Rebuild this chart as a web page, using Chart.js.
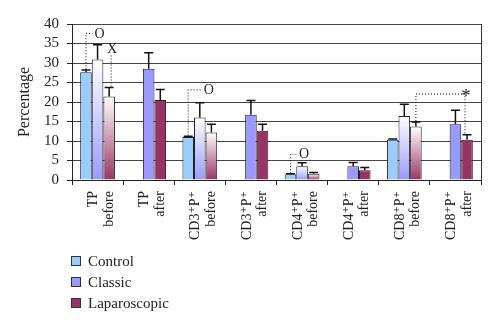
<!DOCTYPE html>
<html>
<head>
<meta charset="utf-8">
<script src="https://cdn.jsdelivr.net/npm/chart.js@4"></script>
<style>
html, body { margin: 0; padding: 0; background: #fff; }
#wrap { position: relative; width: 500px; height: 331px; }
#legend { position: absolute; left: 71px; top: 251px; font: 15px "Liberation Serif", serif; color: #222; }
#legend div { height: 21px; line-height: 21px; white-space: nowrap; }
#legend span { display: inline-block; width: 8px; height: 8px; border: 1px solid #333; margin-right: 7px; }
</style>
</head>
<body>
<div id="wrap">
  <canvas id="chart" width="500" height="331"></canvas>
  <div id="legend"></div>
</div>
<script>
// DATA
var categories = [
  ["TP", "before"], ["TP", "after"],
  ["CD3\u207AP\u207A", "before"], ["CD3\u207AP\u207A", "after"],
  ["CD4\u207AP\u207A", "before"], ["CD4\u207AP\u207A", "after"],
  ["CD8\u207AP\u207A", "before"], ["CD8\u207AP\u207A", "after"]
];
var seriesNames = ["Control", "Classic", "Laparoscopic"];
var control      = [27.6, null, 11.0, null, 1.5, null, 10.3, null];
var controlErr   = [0.6, null, 0.2, null, 0.1, null, 0.2, null];
var classic      = [30.9, 28.5, 16.0, 16.7, 3.5, 3.5, 16.4, 14.3];
var classicErr   = [3.8, 4.1, 3.8, 3.7, 0.9, 1.0, 3.0, 3.6];
var laparoscopic = [21.4, 20.5, 12.2, 12.6, 1.6, 2.5, 13.7, 10.3];
var laparoErr    = [2.3, 2.7, 2.1, 1.7, 0.3, 0.7, 1.2, 1.3];
var yTicks = [0, 5, 10, 15, 20, 25, 30, 35, 40];

// significance marks: [category, series, value, pixel nudge]
var notes = [
  { text: "O", path: [[0, 0, 28.4], [0, 0, 37.6], [0, 1, 37.6, -4]], at: [0, 1, 37.3, -3], align: "left" },
  { text: "X", path: [[0, 2, 24.0, 2], [0, 2, 32.3, 2]], at: [0, 2, 33.4, 3], align: "center" },
  { text: "O", path: [[2, 0, 11.4], [2, 0, 23.1], [2, 1, 23.1, 1]], at: [2, 1, 23.0, 4], align: "left" },
  { text: "O", path: [[4, 0, 1.7], [4, 0, 6.6], [4, 1, 6.6, -4]], at: [4, 1, 6.6, -3], align: "left" },
  { text: "*", path: [[6, 2, 15.1], [6, 2, 22.0], [7, 2, 22.0, -2], [7, 2, 11.8, -2]], at: [7, 2, 21.4, -1], align: "center" }
];

//Colors
var $sky = "#99ccff";
var $lilac = "#9999ff";
var $plum = "#993366";
var $ink = "#222";
var serif = "'Liberation Serif', 'DejaVu Serif', serif";

// "before" groups get a white-to-colour fade
var fadeGroups = [0, 2, 4, 6];

function fill(color) {
  return function (c) {
    if (c.type !== "data" || fadeGroups.indexOf(c.dataIndex) < 0 || c.raw == null) return color;
    var y = c.chart.scales.y;
    var top = y.getPixelForValue(c.raw), bottom = y.getPixelForValue(0);
    if (!isFinite(top) || !isFinite(bottom) || top === bottom) return color;
    var g = c.chart.ctx.createLinearGradient(0, top, 0, bottom);
    g.addColorStop(0, "#ffffff");
    g.addColorStop(1, color);
    return g;
  };
}

// Error bars (upper only, with cap)
var errorBars = {
  id: "errorBars",
  afterDatasetsDraw: function (chart) {
    var ctx = chart.ctx, y = chart.scales.y;
    ctx.save();
    ctx.strokeStyle = "#111";
    ctx.lineWidth = 1.5;
    chart.data.datasets.forEach(function (ds, i) {
      chart.getDatasetMeta(i).data.forEach(function (bar, j) {
        var v = ds.data[j], e = ds.errors[j];
        if (v == null || !e) return;
        var top = y.getPixelForValue(v + e);
        ctx.beginPath();
        ctx.moveTo(bar.x, bar.y);
        ctx.lineTo(bar.x, top);
        ctx.moveTo(bar.x - 4.5, top);
        ctx.lineTo(bar.x + 4.5, top);
        ctx.stroke();
      });
    });
    ctx.restore();
  }
};

// Dotted comparison lines with their symbols
var marks = {
  id: "marks",
  afterDatasetsDraw: function (chart) {
    var ctx = chart.ctx, y = chart.scales.y;
    function pt(p) {
      var bar = chart.getDatasetMeta(p[1]).data[p[0]];
      return { x: bar.x + (p[3] || 0), y: y.getPixelForValue(p[2]) };
    }
    ctx.save();
    notes.forEach(function (n) {
      var pts = n.path.map(pt);
      var lab = pt(n.at);
      if (n.align === "left") {
        var last = pts[pts.length - 1];
        last.x = Math.min(last.x, lab.x - 2);
      }
      ctx.strokeStyle = "#333";
      ctx.lineWidth = 1.2;
      ctx.setLineDash([1, 2]);
      ctx.beginPath();
      ctx.moveTo(pts[0].x, pts[0].y);
      for (var k = 1; k < pts.length; k++) ctx.lineTo(pts[k].x, pts[k].y);
      ctx.stroke();
      ctx.setLineDash([]);
      ctx.fillStyle = $ink;
      ctx.font = (n.text === "*" ? "19px " : "14px ") + serif;
      ctx.textAlign = n.align;
      ctx.textBaseline = "middle";
      ctx.fillText(n.text, lab.x, lab.y);
    });
    ctx.restore();
  }
};

var colors = [$sky, $lilac, $plum];
var values = [control, classic, laparoscopic];
var errors = [controlErr, classicErr, laparoErr];

var ctx = document.getElementById("chart").getContext("2d");
var myBarChart = new Chart(ctx, {
  type: "bar",
  data: {
    labels: categories,
    datasets: seriesNames.map(function (name, i) {
      return {
        label: name,
        data: values[i],
        errors: errors[i],
        backgroundColor: i === 0 ? colors[i] : fill(colors[i]),
        borderColor: $ink,
        borderWidth: 1,
        categoryPercentage: 0.68,
        barPercentage: 1
      };
    })
  },
  options: {
    responsive: false,
    animation: false,
    layout: { padding: { left: 15, right: 19, top: 24, bottom: 81 } },
    plugins: {
      legend: { display: false },
      tooltip: { enabled: false }
    },
    scales: {
      x: {
        grid: {
          color: function (c) { return c.tick ? "rgba(0,0,0,0)" : "#333"; },
          tickColor: $ink,
          tickLength: 5
        },
        border: { color: $ink },
        ticks: {
          autoSkip: false,
          minRotation: 90,
          maxRotation: 90,
          padding: 6,
          labelOffset: -4,
          color: $ink,
          font: { family: serif, size: 14, lineHeight: 1.1 }
        },
        afterFit: function (s) { s.height = 70; }
      },
      y: {
        min: 0,
        max: 40,
        afterBuildTicks: function (s) { s.ticks = yTicks.map(function (v) { return { value: v }; }); },
        grid: { color: "#444", tickColor: $ink, tickLength: 5 },
        border: { color: $ink },
        ticks: { autoSkip: false, padding: 8, color: $ink, font: { family: serif, size: 15 } },
        title: { display: true, text: "Percentage", color: $ink, padding: 0, font: { family: serif, size: 16 } },
        afterFit: function (s) { s.width = 57; }
      }
    }
  },
  plugins: [errorBars, marks]
});

// Legend as a stacked list
document.getElementById("legend").innerHTML = seriesNames.map(function (name, i) {
  return '<div><span style="background:' + colors[i] + '"></span>' + name + '</div>';
}).join("");
</script>
</body>
</html>
